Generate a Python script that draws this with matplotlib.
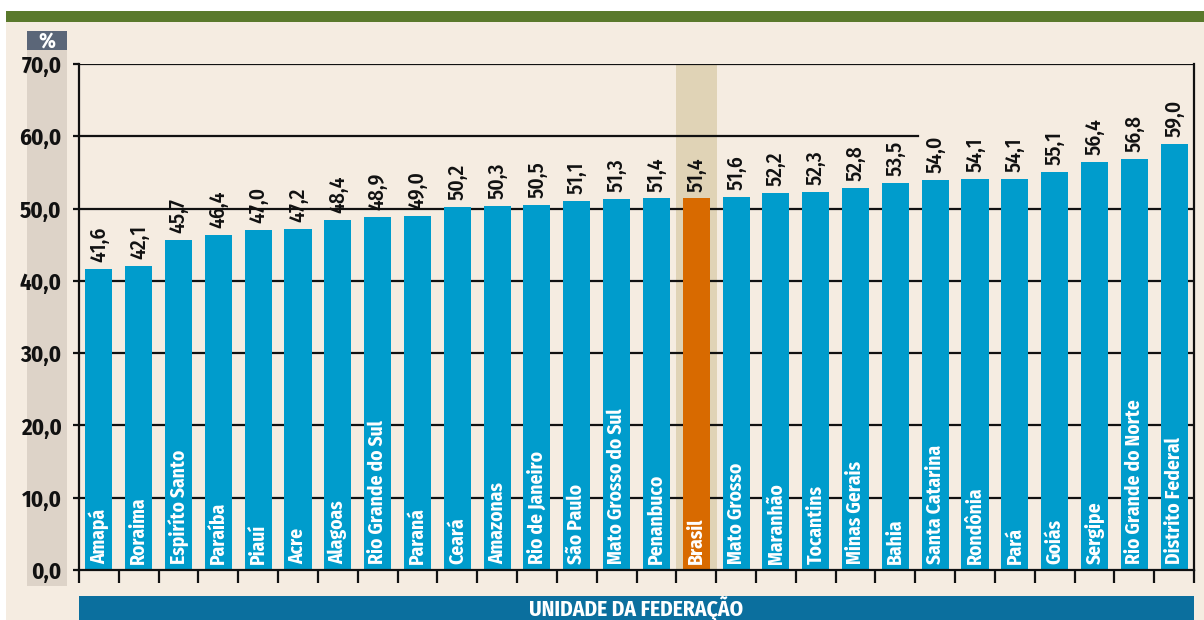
import matplotlib
matplotlib.use("Agg")
import matplotlib.pyplot as plt
from matplotlib import font_manager as fm
from matplotlib.patches import Rectangle

categories = ["Amapá", "Roraima", "Espiríto Santo", "Paraíba", "Piauí", "Acre", "Alagoas",
              "Rio Grande do Sul", "Paraná", "Ceará", "Amazonas", "Rio de Janeiro", "São Paulo",
              "Mato Grosso do Sul", "Penanbuco", "Brasil", "Mato Grosso", "Maranhão", "Tocantins",
              "Minas Gerais", "Bahia", "Santa Catarina", "Rondônia", "Pará", "Goiás", "Sergipe",
              "Rio Grande do Norte", "Distrito Federal"]
values = [41.6, 42.1, 45.7, 46.4, 47.0, 47.2, 48.4, 48.9, 49.0, 50.2, 50.3, 50.5, 51.1,
          51.3, 51.4, 51.4, 51.6, 52.2, 52.3, 52.8, 53.5, 54.0, 54.1, 54.1, 55.1, 56.4,
          56.8, 59.0]
highlight = "Brasil"
yticks = [0, 10, 20, 30, 40, 50, 60, 70]
xlabel = "UNIDADE DA FEDERAÇÃO"
unit = "%"

names = {f.name for f in fm.fontManager.ttflist}
fam = "DejaVu Sans"
for cand in ["Fira Sans Condensed", "PT Sans Narrow", "Roboto Condensed",
             "Open Sans Condensed", "Asap Condensed", "Barlow Semi Condensed"]:
    if cand in names:
        fam = cand
        break
plt.rcParams["font.family"] = [fam, "DejaVu Sans"]

BG = "#f5ece1"
BLUE = "#009ccc"
ORANGE = "#d86a00"
BAND = "#e0d3b6"
DARK = "#111111"

W, H = 1204, 620
fig = plt.figure(figsize=(W / 100, H / 100), dpi=100)
fig.patch.set_facecolor("white")

def px_rect(x0, y0, x1, y1, color, z=-5):
    fig.patches.append(Rectangle((x0 / W, 1 - y1 / H), (x1 - x0) / W, (y1 - y0) / H,
                                 transform=fig.transFigure, facecolor=color,
                                 edgecolor="none", zorder=z))

px_rect(6, 22, W, H, BG)             # cream background
px_rect(6, 11, W, 22, "#5a792c")     # green top band
px_rect(27, 49, 67, 586, "#ddd3c8")  # grey label strip
px_rect(27, 31, 67, 50, "#5b6678")   # % box
px_rect(79, 596, 1194, 620, "#0b6f9e")  # bottom banner
fig.text(47 / W, 1 - 41 / H, unit, color="white", fontsize=15.5, fontweight="bold",
         ha="center", va="center")
fig.text(636.5 / W, 1 - 609 / H, xlabel, color="white", fontsize=15.5, fontweight="bold",
         ha="center", va="center")

ax = fig.add_axes([79 / W, 1 - 570 / H, (1194 - 79) / W, (570 - 64) / H])
ax.set_facecolor("none")
n = len(categories)
ax.set_xlim(-0.5, n - 0.5)
ax.set_ylim(0, 70)

hi = categories.index(highlight)
ax.axvspan(hi - 0.515, hi + 0.515, color=BAND, zorder=0, lw=0)

for v in yticks[1:]:
    xmax = 1.0
    if v == 60:
        xmax = (20.57 + 0.5) / n
    ax.axhline(v, xmin=0, xmax=xmax, color=DARK, lw=1.6, zorder=1)

colors = [ORANGE if c == highlight else BLUE for c in categories]
xs = list(range(n))
ax.bar(xs, values, width=0.68, color=colors, zorder=2)

for x, v, c in zip(xs, values, categories):
    ax.annotate(f"{v:.1f}".replace(".", ","), (x, v), xytext=(0, 5),
                textcoords="offset points", rotation=90, ha="center", va="bottom",
                fontsize=15.5, fontweight="medium", color=DARK, zorder=3)
    ax.annotate(c, (x, 0), xytext=(0, 4), textcoords="offset points", rotation=90,
                ha="center", va="bottom", fontsize=14, fontweight="bold",
                color="white", zorder=3)

ax.spines["top"].set_visible(False)
for s in ["left", "right", "bottom"]:
    ax.spines[s].set_color(DARK)
    ax.spines[s].set_linewidth(1.6)
    ax.spines[s].set_zorder(4)

ax.set_yticks(yticks)
ax.set_yticklabels([f"{v:.1f}".replace(".", ",") for v in yticks], fontsize=16.5,
                   fontweight="bold", color=DARK)
ax.tick_params(axis="y", direction="out", length=4.5, width=1.6, color=DARK, pad=8)
ax.set_xticks([i - 0.5 for i in range(n + 1)])
ax.set_xticklabels([])
ax.tick_params(axis="x", direction="out", length=9.5, width=1.6, color=DARK)

fig.savefig("out.png", dpi=100, facecolor=fig.get_facecolor())
